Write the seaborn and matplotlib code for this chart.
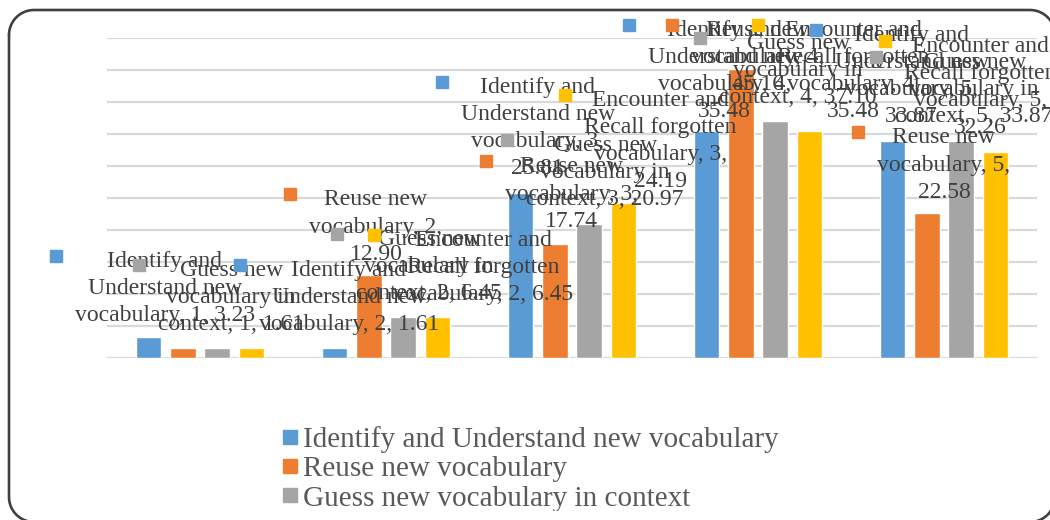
import textwrap
import numpy as np
import matplotlib
matplotlib.use('Agg')
import matplotlib.pyplot as plt
import seaborn as sns
import pandas as pd
from matplotlib.lines import Line2D
from matplotlib.transforms import Bbox, IdentityTransform

# data (percent of students per level)
levels = ['1', '2', '3', '4', '5']
strategies = ['Identify and Understand new vocabulary',
              'Reuse new vocabulary',
              'Guess new vocabulary in context',
              'Encounter and Recall forgotten vocabulary']
identify = [3.23, 1.61, 25.81, 35.48, 33.87]
reuse = [1.61, 12.90, 17.74, 45.16, 22.58]
guess = [1.61, 6.45, 20.97, 37.10, 33.87]
encounter = [1.61, 6.45, 24.19, 35.48, 32.26]
values = [identify, reuse, guess, encounter]
colors = ['#5B9BD5', '#ED7D31', '#A5A5A5', '#FFC000']

# data label layout (Excel style): wrap width in chars, pixel shift of the
# label (centre x, first line y) from the top of its bar. None = no label
label_wrap = [[19, 19, 15, 15, 15],
              [None, 15, 15, 15, 15],
              [17, 17, 17, 17, 17],
              [None, 19, 16, 16, 16]]
label_shift = [[(16, -78), (14, -80), (17, -108), (18, -103), (19, -108)],
               [None, (7, -78), (17, -80), (17, -41), (17, -78)],
               [(14, -80), (26, -80), (16, -81), (23, -80), (13, -81)],
               [None, (46, -79), (37, -105), (44, -103), (-15, -108)]]

df = pd.DataFrame({
    'level': levels * len(strategies),
    'strategy': [s for s in strategies for _ in levels],
    'pct': [v for vals in values for v in vals],
})

sns.set_theme(style='white')
plt.rcParams['font.family'] = ['Liberation Serif', 'DejaVu Serif']

W, H = 1050, 520
fig = plt.figure(figsize=(W / 100, H / 100), dpi=100)

# full-figure axes in image pixels (y down), only used for the rounded border
bg = fig.add_axes([0, 0, 1, 1], zorder=-1)
bg.set_xlim(0, W)
bg.set_ylim(H, 0)
bg.axis('off')


def rounded_box(x0, y0, x1, y1, r, n=20):
    xs, ys = [], []
    corners = [(x0 + r, y0 + r, np.pi, 1.5 * np.pi),
               (x1 - r, y0 + r, 1.5 * np.pi, 2 * np.pi),
               (x1 - r, y1 - r, 0, 0.5 * np.pi),
               (x0 + r, y1 - r, 0.5 * np.pi, np.pi)]
    for cx, cy, a0, a1 in corners:
        t = np.linspace(a0, a1, n)
        xs.extend(cx + r * np.cos(t))
        ys.extend(cy + r * np.sin(t))
    xs.append(xs[0])
    ys.append(ys[0])
    return xs, ys


bx, by = rounded_box(9, 10, 1055, 522, 25)
bg.plot(bx, by, color='#404040', lw=1.9, clip_on=False, solid_joinstyle='round')

ax = fig.add_axes([107 / W, 162 / H, 930 / W, 320 / H])
ax.patch.set_alpha(0)

sns.barplot(data=df, x='level', y='pct', hue='strategy', hue_order=strategies,
            palette=colors, saturation=1, width=0.735, gap=0.26,
            legend=False, ax=ax, zorder=2)

ax.set_ylim(0, 50)
ax.set_yticks(range(0, 51, 5))
ax.yaxis.grid(True, color='#D9D9D9', lw=1.6)
ax.set_axisbelow(True)
ax.tick_params(left=False, bottom=False, labelleft=False, labelbottom=False)
ax.set_xlabel('')
ax.set_ylabel('')
sns.despine(ax=ax, left=True, bottom=True)

# data labels with their legend keys
renderer = fig.canvas.get_renderer()
for si, cont in enumerate(ax.containers):
    for gi, bar in enumerate(cont):
        wrap = label_wrap[si][gi]
        if wrap is None:
            continue
        txt = textwrap.fill(f'{strategies[si]}, {levels[gi]}, {values[si][gi]:.2f}', wrap)
        dx, dy = label_shift[si][gi]
        xc = bar.get_x() + bar.get_width() / 2
        t = ax.annotate(txt, (xc, bar.get_height()), xytext=(dx, -dy + 8),
                        textcoords='offset pixels', ha='center', va='top',
                        fontsize=17, color='#404040', linespacing=1.38,
                        zorder=5, annotation_clip=False)
        bb = t.get_window_extent(renderer)
        fig.add_artist(Line2D([bb.x0 - 19], [bb.y1 - 5], marker='s', ms=9,
                              ls='', color=colors[si], transform=IdentityTransform()))

# legend at the bottom, last row runs off the chart like the original
handles = [Line2D([], [], marker='s', ls='', color=c, ms=9.5) for c in colors]
leg = fig.legend(handles, strategies, loc='upper left',
                 bbox_to_anchor=(283 / W, 1 - 426 / H), frameon=False,
                 fontsize=21, labelspacing=0.1, handlelength=0.5,
                 handletextpad=0.2, borderpad=0, borderaxespad=0,
                 labelcolor='#595959')
clip = Bbox([[0, 9], [W, H]])
for a in list(leg.get_texts()) + list(leg.legend_handles):
    a.set_clip_box(clip)
    a.set_clip_on(True)

fig.savefig('out.png', dpi=100)
